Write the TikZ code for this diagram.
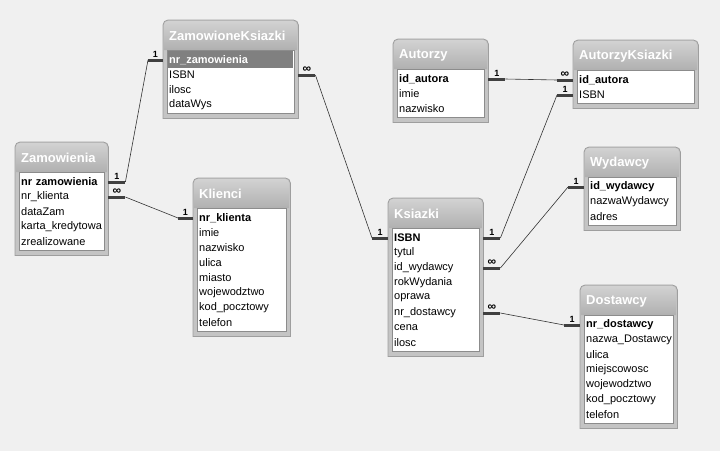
\documentclass[tikz,border=0pt]{standalone}
\usepackage{fontspec}
\setmainfont{Liberation Sans}

\definecolor{bgcol}{RGB}{240,240,240}
\definecolor{framecol}{RGB}{196,196,196}
\definecolor{framedark}{RGB}{158,158,158}
\definecolor{titletop}{RGB}{210,210,210}
\definecolor{titlebot}{RGB}{176,176,176}
\definecolor{keyrow}{RGB}{128,128,128}

% #1 fill of first row, #2 name, #3 x, #4 y, #5 width, #6 title, #7 fields
\newcommand{\accesstable}[7][]{%
	\foreach \r [count=\n] in {#7} {\xdef\nrows{\n}}%
	\pgfmathsetmacro\th{38+15*\nrows}%
	\pgfmathsetmacro\tw{#5-12}%
	\node[inner sep=0pt,minimum width=#5pt,minimum height=\th pt,anchor=north west] (#2) at (#3,#4) {};%
	\draw[tableframe] (#2.south west) [rounded corners=5pt] -- (#2.north west) -- (#2.north east) [sharp corners] -- (#2.south east) -- cycle;%
	\shade[titlebar] (#3+1,#4+30) [rounded corners=4pt] -- (#3+1,#4+1) -- (#3+#5-1,#4+1) [sharp corners] -- (#3+#5-1,#4+30) -- cycle;%
	\node[tabletitle] (#2-t) at (#3+6,#4+16) {#6};%
	\draw[fieldlist] (#3+4,#4+30) rectangle (#3+#5-4,#4+\th-5);%
	\path[#1] (#3+5,#4+31) rectangle (#3+#5-5,#4+48);%
	\foreach \r [count=\i] in {#7} {%
		\node[fieldrow,text width=\tw pt] (#2-\i) at (#3+5,#4+25+15*\i) {\r};}%
}
\newcommand{\many}{{\fontsize{12}{12}\selectfont ∞}}

\begin{document}
\begin{tikzpicture}[x=1pt,y=-1pt,
		tableframe/.style={draw=framedark,fill=framecol,line width=0.8pt},
		titlebar/.style={top color=titletop,bottom color=titlebot},
		tabletitle/.style={anchor=west,inner sep=0pt,text=white,font=\fontsize{13}{15}\selectfont\bfseries},
		fieldlist/.style={fill=white,draw=black!45,line width=0.6pt},
		fieldrow/.style={anchor=west,inner xsep=1pt,inner ysep=0pt,minimum height=15pt,align=left,font=\fontsize{11}{13}\selectfont},
		stub/.style={draw=black!75,line width=3pt},
		link/.style={draw=black!80,line width=0.6pt},
		card/.style={above,inner sep=1.5pt,font=\fontsize{9}{9}\selectfont\bfseries}]
	\useasboundingbox[fill=bgcol] (0,0) rectangle (720,451);

	% tables
	\accesstable{zam}{15}{142}{93}{Zamowienia}{\textbf{nr zamowienia},nr\_klienta,dataZam,karta\_kredytowa,zrealizowane}
	\accesstable[fill=keyrow]{zk}{163}{20}{135}{ZamowioneKsiazki}{\textcolor{white}{\textbf{nr\_zamowienia}},ISBN,ilosc,dataWys}
	\accesstable{kli}{193}{178}{97}{Klienci}{\textbf{nr\_klienta},imie,nazwisko,ulica,miasto,wojewodztwo,kod\_pocztowy,telefon}
	\accesstable{aut}{393}{39}{95}{Autorzy}{\textbf{id\_autora},imie,nazwisko}
	\accesstable{ak}{573}{40}{125}{AutorzyKsiazki}{\textbf{id\_autora},ISBN}
	\accesstable{ksi}{388}{198}{95}{Ksiazki}{\textbf{ISBN},tytul,id\_wydawcy,rokWydania,oprawa,nr\_dostawcy,cena,ilosc}
	\accesstable{wyd}{584}{147}{96}{Wydawcy}{\textbf{id\_wydawcy},nazwaWydawcy,adres}
	\accesstable{dos}{580}{285}{97}{Dostawcy}{\textbf{nr\_dostawcy},nazwa\_Dostawcy,ulica,miejscowosc,wojewodztwo,kod\_pocztowy,telefon}

	% relationships
	\draw[stub] (zam.east |- zam-1) -- node[card] {1} ++(17,0) coordinate (zam-1r);
	\draw[stub] (zk.west |- zk-1) -- node[card] {1} ++(-15,0) coordinate (zk-1l);
	\draw[link] (zam-1r) -- (zk-1l);

	\draw[stub] (zam.east |- zam-2) -- node[card] {\many} ++(17,0) coordinate (zam-2r);
	\draw[stub] (kli.west |- kli-1) -- node[card] {1} ++(-15,0) coordinate (kli-1l);
	\draw[link] (zam-2r) -- (kli-1l);

	\draw[stub] (zk.east |- zk-2) -- node[card] {\many} ++(17,0) coordinate (zk-2r);
	\draw[stub] (ksi.west |- ksi-1) -- node[card] {1} ++(-16,0) coordinate (ksi-1l);
	\draw[link] (zk-2r) -- (ksi-1l);

	\draw[stub] (aut.east |- aut-1) -- node[card] {1} ++(17,0) coordinate (aut-1r);
	\draw[stub] (ak.west |- ak-1) -- node[card] {\many} ++(-16,0) coordinate (ak-1l);
	\draw[link] (aut-1r) -- (ak-1l);

	\draw[stub] (ak.west |- ak-2) -- node[card] {1} ++(-16,0) coordinate (ak-2l);
	\draw[stub] (ksi.east |- ksi-1) -- node[card] {1} ++(17,0) coordinate (ksi-1r);
	\draw[link] (ksi-1r) -- (ak-2l);

	\draw[stub] (ksi.east |- ksi-3) -- node[card] {\many} ++(17,0) coordinate (ksi-3r);
	\draw[stub] (wyd.west |- wyd-1) -- node[card] {1} ++(-16,0) coordinate (wyd-1l);
	\draw[link] (ksi-3r) -- (wyd-1l);

	\draw[stub] (ksi.east |- ksi-6) -- node[card] {\many} ++(17,0) coordinate (ksi-6r);
	\draw[stub] (dos.west |- dos-1) -- node[card] {1} ++(-16,0) coordinate (dos-1l);
	\draw[link] (ksi-6r) -- (dos-1l);
\end{tikzpicture}
\end{document}
